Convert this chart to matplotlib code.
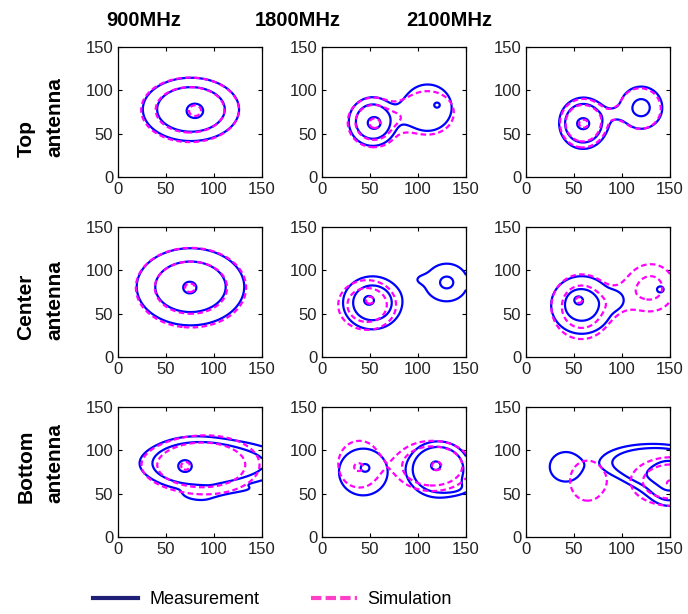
import numpy as np
import matplotlib.pyplot as plt
from matplotlib.lines import Line2D

plt.rcParams['font.family'] = ['Liberation Sans', 'DejaVu Sans']

freqs = ['900MHz', '1800MHz', '2100MHz']
row_names = ['Top\nantenna', 'Center\nantenna', 'Bottom\nantenna']
ticks = [0, 50, 100, 150]
levels = [0.25, 0.45, 0.85]

# field sources: (x, y, sx, sy, amplitude, shape power)
meas_top_900 = [(76, 78, 35, 25.5, 0.7, 1.2), (80.5, 76, 7, 7, 0.35, 1)]
sim_top_900 = [(75, 77.5, 35.5, 26, 0.7, 1.2), (80.5, 76.5, 5, 5, 0.35, 1)]

meas_top_1800 = [(53, 64, 17.5, 19.6, 0.7, 1.2), (54.7, 62, 5.8, 5.8, 0.35, 1),
                 (110, 80, 22, 23.5, 0.38, 2), (120, 83, 3, 3, 0.12, 1)]
sim_top_1800 = [(54, 63, 19, 20, 0.7, 1.2), (55, 62, 4.5, 4.5, 0.35, 1),
                (110, 74, 24, 22, 0.38, 2)]

meas_top_2100 = [(59.5, 62, 17.5, 20.7, 0.7, 1.47), (59.5, 61.5, 5, 5, 0.35, 1),
                 (120, 80, 18.5, 20.5, 0.505, 1), (92, 73, 8, 6, 0.1, 1)]
sim_top_2100 = [(59, 62, 16.5, 19.5, 0.7, 1.47), (60, 61.5, 3.5, 3.5, 0.35, 1),
                (119, 79, 21, 23, 0.42, 1), (92, 73, 8, 6, 0.1, 1)]

meas_center_900 = [(75.5, 81, 39, 31, 0.7, 1), (74.7, 80, 5.5, 5.5, 0.35, 1)]
sim_center_900 = [(76, 80, 40, 32, 0.7, 1), (75, 80, 4, 4, 0.35, 1)]

meas_center_1800 = [(52.5, 62.5, 21.3, 21.3, 0.7, 1), (48.4, 65.8, 4.5, 4.5, 0.35, 1),
                    (130, 86, 19, 19, 0.479, 1), (102, 90, 7, 5, 0.1, 1)]
sim_center_1800 = [(47, 60, 21, 20, 0.7, 1.1), (50, 66, 3.5, 3.5, 0.35, 1)]

meas_center_2100 = [(58, 60, 22, 23, 0.7, 0.7), (94, 66, 8, 8, 0.18, 1),
                    (54.4, 66, 4, 4, 0.45, 1), (140, 78, 5, 5, 0.3, 1)]
sim_center_2100 = [(58, 58, 22, 26, 0.7, 1), (55, 66, 3, 3, 0.35, 1),
                   (130, 80, 20, 22, 0.5, 1.3), (96, 64, 12, 14, 0.15, 1)]

meas_bottom_900 = [(100, 85, 55, 20, 0.55, 2), (72, 85, 30, 35, 0.2, 1.3),
                   (118, 47, 40, 9, 0.17, 3), (69.4, 81.5, 4.8, 4.8, 0.35, 1)]
sim_bottom_900 = [(80, 83, 42, 22, 0.55, 1.5), (105, 84, 38, 30, 0.2, 1.5),
                  (70, 82, 3.5, 3.5, 0.35, 1)]

meas_bottom_1800 = [(43, 75, 23, 24.5, 0.4, 1.5), (45, 80, 4, 4, 0.1, 1),
                    (121, 78, 23, 22.7, 0.7, 1.9), (118.5, 82.3, 3.8, 3.8, 0.35, 1),
                    (145, 55, 12, 6, 0.2, 1)]
sim_bottom_1800 = [(39, 84, 20, 24.5, 0.4, 1.5), (38, 80.5, 4, 4, 0.1, 1),
                   (115, 82, 28, 20.3, 0.7, 1.7), (119.5, 82, 3.8, 3.8, 0.35, 1)]

meas_bottom_2100 = [(41.5, 81, 17, 17.3, 0.35, 1.5), (130, 86, 38.6, 15.5, 0.6, 2),
                    (118, 62, 16, 9, 0.2, 1), (150, 62, 16, 16, 0.95, 1)]
sim_bottom_2100 = [(64, 65, 18.3, 23.4, 0.35, 1.5), (152, 64, 30, 19.6, 0.7, 1.2),
                   (150, 62, 2.5, 2.5, 0.35, 1)]

meas = [[meas_top_900, meas_top_1800, meas_top_2100],
        [meas_center_900, meas_center_1800, meas_center_2100],
        [meas_bottom_900, meas_bottom_1800, meas_bottom_2100]]
sim = [[sim_top_900, sim_top_1800, sim_top_2100],
       [sim_center_900, sim_center_1800, sim_center_2100],
       [sim_bottom_900, sim_bottom_1800, sim_bottom_2100]]


def field(blobs, X, Y):
    Z = np.zeros_like(X)
    for x0, y0, sx, sy, a, p in blobs:
        d = (((X - x0) / sx) ** 2 + ((Y - y0) / sy) ** 2) / 2
        Z += a * np.exp(-d ** p)
    return Z


x = np.linspace(0, 150, 301)
X, Y = np.meshgrid(x, x)

fig = plt.figure(figsize=(6.88, 6.14), dpi=100)
lefts = [118, 322, 526]
tops = [177, 357, 537]
dash = (0, (2.5, 1.5))

for i in range(3):
    for j in range(3):
        ax = fig.add_axes([lefts[j] / 688, 1 - tops[i] / 614, 144 / 688, 130 / 614])
        ax.contour(X, Y, field(meas[i][j], X, Y), levels=levels,
                   colors='#0000ff', linewidths=1.6)
        ax.contour(X, Y, field(sim[i][j], X, Y), levels=levels,
                   colors='#ff00ff', linewidths=1.6, linestyles=[dash])
        ax.set_xlim(0, 150)
        ax.set_ylim(0, 150)
        ax.set_xticks(ticks)
        ax.set_yticks(ticks)
        ax.tick_params(direction='in', length=3, labelsize=12, top=True, right=True,
                       colors='black', labelcolor='#222222')
        for s in ax.spines.values():
            s.set_linewidth(0.9)

title_x = [144, 298, 449]
for j in range(3):
    fig.text(title_x[j] / 688, 1 - 20 / 614, freqs[j], ha='center', va='center',
             fontsize=14.5, fontweight='bold')

label_bottom = [157, 340, 503]
for i in range(3):
    fig.text(40.5 / 688, 1 - label_bottom[i] / 614, row_names[i], rotation=90,
             ha='center', va='bottom', ma='left', fontsize=15, fontweight='bold',
             linespacing=1.7)

handles = [Line2D([], [], color='#1f1f78', lw=3),
           Line2D([], [], color='#ff3fc8', lw=3, linestyle=(0, (2.5, 1)))]
fig.legend(handles, ['Measurement', 'Simulation'], ncol=2, loc='center',
           bbox_to_anchor=(0.396, 1 - 600 / 614), frameon=False, fontsize=13,
           handlelength=2.5, handletextpad=0.6, columnspacing=2.9)

fig.savefig('out.png', dpi=100)
